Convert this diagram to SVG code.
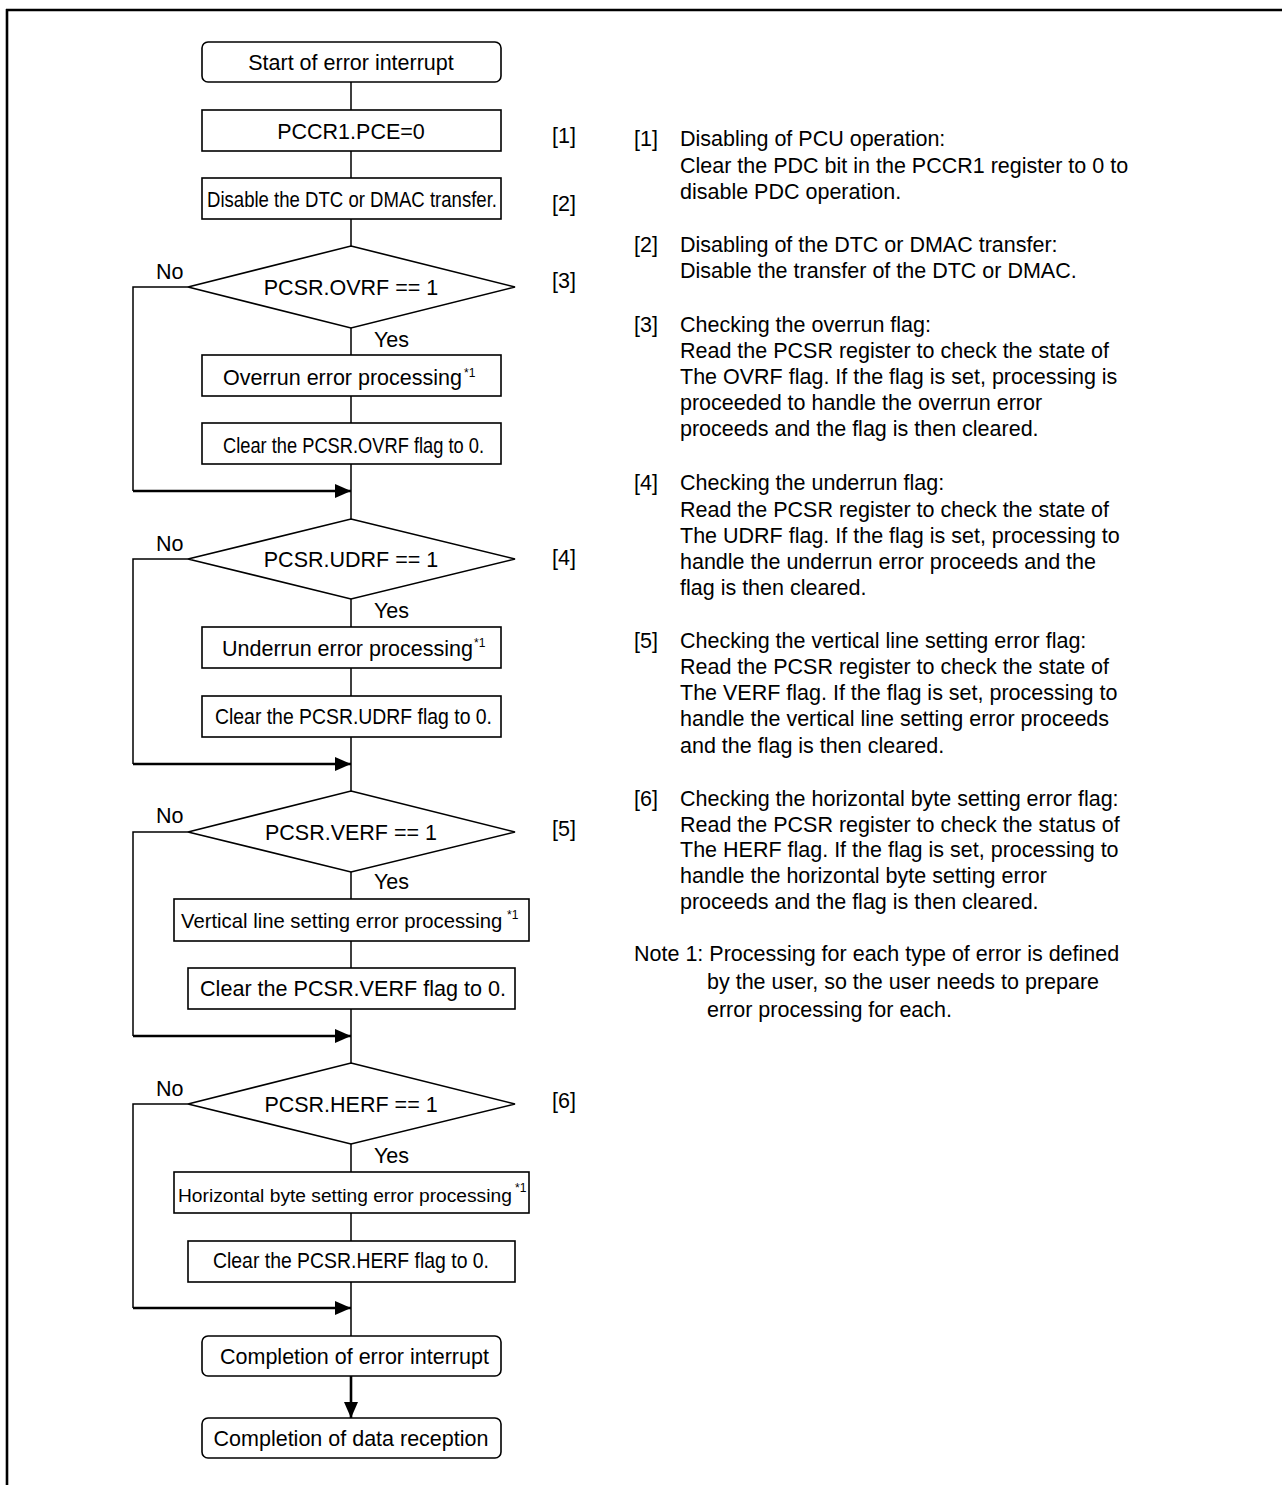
<svg xmlns="http://www.w3.org/2000/svg" width="1282" height="1485" viewBox="0 0 1282 1485">
<style>
text{font-family:"Liberation Sans",Arial,Helvetica,sans-serif;font-size:21.5px;fill:#000}
.box{fill:#fff;stroke:#000;stroke-width:1.6}
.ln{fill:none;stroke:#000;stroke-width:1.5}
.thk{fill:none;stroke:#000;stroke-width:2.6}
.c{text-anchor:middle}
.sup{font-size:12px}
</style>
<defs>
<marker id="ah" markerUnits="userSpaceOnUse" markerWidth="16" markerHeight="14" refX="16" refY="7" orient="auto">
<path d="M0,0 L16,7 L0,14 z" fill="#000"/>
</marker>
</defs>
<rect width="1282" height="1485" fill="#fff"/>
<g id="frame">
<path d="M6,10 H1282 M7,9 V1485" fill="none" stroke="#000" stroke-width="2.6"/>
</g>
<g id="connectors">
<path class="ln" d="M351,82 V110 M351,151 V178 M351,219 V246 M351,328 V355 M351,396 V423 M351,464 V519 M351,599 V627 M351,668 V696 M351,737 V791 M351,872 V899 M351,941 V968 M351,1009 V1063 M351,1144 V1172 M351,1213 V1241 M351,1282 V1336"/>
<path class="ln" d="M188,287 H133 V491 M188,559 H133 V764 M188,832 H133 V1036 M188,1104 H133 V1308"/>
<path class="thk" d="M133,491 H351" marker-end="url(#ah)"/>
<path class="thk" d="M133,764 H351" marker-end="url(#ah)"/>
<path class="thk" d="M133,1036 H351" marker-end="url(#ah)"/>
<path class="thk" d="M133,1308 H351" marker-end="url(#ah)"/>
<path class="thk" d="M351,1376 V1418" marker-end="url(#ah)"/>
<text x="156" y="279">No</text>
<text x="374" y="347">Yes</text>
<text x="156" y="551">No</text>
<text x="374" y="618">Yes</text>
<text x="156" y="823">No</text>
<text x="374" y="889">Yes</text>
<text x="156" y="1096">No</text>
<text x="374" y="1163">Yes</text>
</g>
<g id="n-start">
<rect class="box" x="202" y="42" width="299" height="40" rx="6"/>
<text class="c" x="351" y="70">Start of error interrupt</text>
</g>
<g id="n-pccr1">
<rect class="box" x="202" y="110" width="299" height="41"/>
<text class="c" x="351" y="139">PCCR1.PCE=0</text>
<text x="552" y="143">[1]</text>
</g>
<g id="n-disable">
<rect class="box" x="202" y="178" width="299" height="41"/>
<text x="207" y="207" textLength="290" lengthAdjust="spacingAndGlyphs">Disable the DTC or DMAC transfer.</text>
<text x="552" y="211">[2]</text>
</g>
<g id="d-ovrf">
<polygon class="box" points="351,246 515,287 351,328 188,287"/>
<text class="c" x="351" y="295">PCSR.OVRF == 1</text>
<text x="552" y="288">[3]</text>
</g>
<g id="n-overrun">
<rect class="box" x="202" y="355" width="299" height="41"/>
<text x="223" y="385">Overrun error processing</text>
<text class="sup" x="464" y="377">*1</text>
</g>
<g id="n-clear-ovrf">
<rect class="box" x="202" y="423" width="299" height="41"/>
<text x="223" y="453" textLength="261" lengthAdjust="spacingAndGlyphs">Clear the PCSR.OVRF flag to 0.</text>
</g>
<g id="d-udrf">
<polygon class="box" points="351,519 515,559 351,599 188,559"/>
<text class="c" x="351" y="567">PCSR.UDRF == 1</text>
<text x="552" y="565">[4]</text>
</g>
<g id="n-underrun">
<rect class="box" x="202" y="627" width="299" height="41"/>
<text x="222" y="656">Underrun error processing</text>
<text class="sup" x="474" y="647">*1</text>
</g>
<g id="n-clear-udrf">
<rect class="box" x="202" y="696" width="299" height="41"/>
<text x="215" y="724" textLength="277" lengthAdjust="spacingAndGlyphs">Clear the PCSR.UDRF flag to 0.</text>
</g>
<g id="d-verf">
<polygon class="box" points="351,791 515,832 351,872 188,832"/>
<text class="c" x="351" y="840">PCSR.VERF == 1</text>
<text x="552" y="836">[5]</text>
</g>
<g id="n-vertical">
<rect class="box" x="174" y="899" width="355" height="42"/>
<text x="181" y="928" style="font-size:20.3px">Vertical line setting error processing</text>
<text class="sup" x="507" y="919">*1</text>
</g>
<g id="n-clear-verf">
<rect class="box" x="188" y="968" width="327" height="41"/>
<text x="200" y="996" textLength="306" lengthAdjust="spacingAndGlyphs">Clear the PCSR.VERF flag to 0.</text>
</g>
<g id="d-herf">
<polygon class="box" points="351,1063 515,1104 351,1144 188,1104"/>
<text class="c" x="351" y="1112">PCSR.HERF == 1</text>
<text x="552" y="1108">[6]</text>
</g>
<g id="n-horizontal">
<rect class="box" x="174" y="1172" width="355" height="41"/>
<text x="178" y="1202" style="font-size:19.2px">Horizontal byte setting error processing</text>
<text class="sup" x="515" y="1192">*1</text>
</g>
<g id="n-clear-herf">
<rect class="box" x="188" y="1241" width="327" height="41"/>
<text x="213" y="1268" textLength="276" lengthAdjust="spacingAndGlyphs">Clear the PCSR.HERF flag to 0.</text>
</g>
<g id="n-completion-int">
<rect class="box" x="202" y="1336" width="299" height="40" rx="6"/>
<text x="220" y="1364">Completion of error interrupt</text>
</g>
<g id="n-completion-rx">
<rect class="box" x="202" y="1418" width="299" height="40" rx="6"/>
<text class="c" x="351" y="1446">Completion of data reception</text>
</g>
<g id="notes">
<text x="634" y="146">[1]</text>
<text x="680" y="146">Disabling of PCU operation:</text>
<text x="680" y="172.5">Clear the PDC bit in the PCCR1 register to 0 to</text>
<text x="680" y="198.5">disable PDC operation.</text>
<text x="634" y="252">[2]</text>
<text x="680" y="252">Disabling of the DTC or DMAC transfer:</text>
<text x="680" y="278">Disable the transfer of the DTC or DMAC.</text>
<text x="634" y="331.5">[3]</text>
<text x="680" y="331.5">Checking the overrun flag:</text>
<text x="680" y="358">Read the PCSR register to check the state of</text>
<text x="680" y="384">The OVRF flag. If the flag is set, processing is</text>
<text x="680" y="410">proceeded to handle the overrun error</text>
<text x="680" y="436">proceeds and the flag is then cleared.</text>
<text x="634" y="490">[4]</text>
<text x="680" y="490">Checking the underrun flag:</text>
<text x="680" y="516.5">Read the PCSR register to check the state of</text>
<text x="680" y="542.5">The UDRF flag. If the flag is set, processing to</text>
<text x="680" y="568.5">handle the underrun error proceeds and the</text>
<text x="680" y="594.5">flag is then cleared.</text>
<text x="634" y="647.5">[5]</text>
<text x="680" y="647.5">Checking the vertical line setting error flag:</text>
<text x="680" y="674">Read the PCSR register to check the state of</text>
<text x="680" y="700">The VERF flag. If the flag is set, processing to</text>
<text x="680" y="726">handle the vertical line setting error proceeds</text>
<text x="680" y="752.5">and the flag is then cleared.</text>
<text x="634" y="806">[6]</text>
<text x="680" y="806">Checking the horizontal byte setting error flag:</text>
<text x="680" y="831.5">Read the PCSR register to check the status of</text>
<text x="680" y="857">The HERF flag. If the flag is set, processing to</text>
<text x="680" y="883">handle the horizontal byte setting error</text>
<text x="680" y="909">proceeds and the flag is then cleared.</text>
<text x="634" y="961">Note 1: Processing for each type of error is defined</text>
<text x="707" y="989">by the user, so the user needs to prepare</text>
<text x="707" y="1017">error processing for each.</text>
</g>
</svg>
